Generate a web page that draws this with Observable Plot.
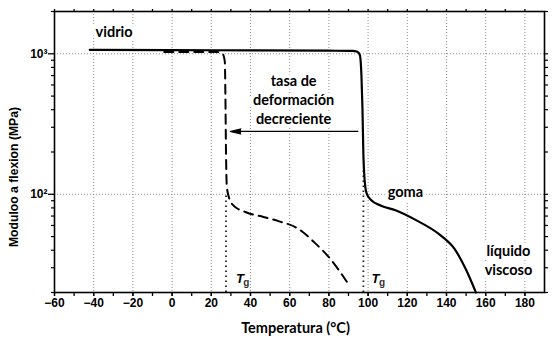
<!DOCTYPE html>
<html><head><meta charset="utf-8">
<script src="https://cdn.jsdelivr.net/npm/d3@7"></script>
<script src="https://cdn.jsdelivr.net/npm/@observablehq/plot@0.6"></script>
<style>
html,body{margin:0;padding:0;background:#fff;}
</style></head><body><div id="chart"></div>
<script>
// Solid curve (flexural modulus vs temperature)
const solidTemp    = [-42, 0, 40, 80, 92, 94.5, 95.8, 96.6, 97.1, 97.6, 98.2, 99.2, 101.5, 106.6, 114, 124, 137, 144, 150, 155];
const solidModulus = [1065, 1062, 1058, 1052, 1048, 1035, 980, 700, 420, 190, 128, 102, 91, 83, 77, 66, 51, 41, 29, 20];
// Dashed curve (decreasing strain rate)
const dashedTemp    = [-4, 10, 23, 25.8, 26.9, 27.2, 27.5, 27.9, 28.9, 31, 37.7, 46.6, 54.3, 64.2, 72.7, 80.8, 89.2];
const dashedModulus = [1030, 1030, 1028, 1000, 880, 500, 200, 115, 96, 84, 74.5, 69, 64.4, 57, 45.3, 34.6, 23.8];
// Glass transition markers
const tgTemps = [27.5, 97.6];
const tgTop   = [100, 150];
const tgLabelTemps = [34.6, 103.8];
const tgLabelModulus = 25;
// Arrow
const arrowFrom = 95, arrowTo = 29.5, arrowModulus = 280;
// Ticks
const xTicks = [-60, -40, -20, 0, 20, 40, 60, 80, 100, 120, 140, 160, 180];
const xMinorTicks = [-60, -50, -40, -30, -20, -10, 0, 10, 20, 30, 40, 50, 60, 70, 80, 90, 100, 110, 120, 130, 140, 150, 160, 170, 180];
const xGrid = [-40, -20, 0, 20, 40, 60, 80, 100, 120, 140, 160, 180];
const yTicks = [100, 1000];
const yTickLabels = ["10²", "10³"];
const yMinorTicks = [20, 30, 40, 50, 60, 70, 80, 90, 200, 300, 400, 500, 600, 700, 800, 900, 2000];
// Annotations
const annTexts = ["vidrio", "tasa de\ndeformación\ndecreciente", "goma", "líquido\nviscoso"];
const annTemps = [-29.6, 62, 119, 171.6];
const annModulus = [1456, 479, 105, 34.3];
const xLabel = "Temperatura (°C)";
const yLabel = "Moduloo a flexion (MPa)";

const solid = solidTemp.map((t, i) => ({t, m: solidModulus[i]}));
const dashed = dashedTemp.map((t, i) => ({t, m: dashedModulus[i]}));
const ann = annTexts.map((s, i) => ({s, t: annTemps[i], m: annModulus[i]}));
const fmtX = d => d < 0 ? "\u2212" + (-d) : String(d);

const arrowHead = (typeof Plot.spike === "function")
  ? Plot.vector([arrowTo], {x: d => d, y: () => arrowModulus, rotate: -90, length: 11, shape: "spike", r: 2.6, anchor: "end", fill: "black", stroke: "black", strokeWidth: 1})
  : Plot.arrow([0], {x1: () => arrowTo + 3, x2: () => arrowTo, y1: () => arrowModulus, y2: () => arrowModulus, headLength: 10, strokeWidth: 2});

const chart = Plot.plot({
  width: 556,
  height: 339,
  marginLeft: 54,
  marginTop: 11,
  marginRight: 12,
  marginBottom: 47,
  x: {domain: [-60, 190]},
  y: {type: "log", domain: [20, 2000]},
  style: {fontFamily: "'Liberation Sans', Arial, sans-serif", fontWeight: "bold", fontSize: "12px", background: "white", color: "black"},
  marks: [
    Plot.gridX(xGrid, {stroke: "#8c8c8c", strokeOpacity: 1, strokeWidth: 1, strokeDasharray: "1,2"}),
    Plot.gridY(yTicks, {stroke: "#8c8c8c", strokeOpacity: 1, strokeWidth: 1, strokeDasharray: "1,2"}),
    Plot.ruleX(tgTemps, {x: d => d, y1: () => 20, y2: (d, i) => tgTop[i], stroke: "#222", strokeWidth: 1.8, strokeDasharray: "1.6,3.4"}),
    Plot.text(ann, {x: "t", y: "m", text: "s", fontFamily: "Lato, 'Open Sans', sans-serif", fontWeight: "bold", fontSize: 14.5, lineHeight: 1.3, fill: "black", stroke: "white", strokeWidth: 8, paintOrder: "stroke"}),
    Plot.line(dashed, {x: "t", y: "m", curve: "monotone-x", stroke: "black", strokeWidth: 2, strokeDasharray: "9,6"}),
    Plot.line(solid, {x: "t", y: "m", curve: "monotone-x", stroke: "black", strokeWidth: 2.2}),
    Plot.link([0], {x1: () => arrowFrom, x2: () => arrowTo + 3, y1: () => arrowModulus, y2: () => arrowModulus, stroke: "black", strokeWidth: 1.3}),
    arrowHead,
    Plot.text(tgLabelTemps, {x: d => d, y: () => tgLabelModulus, text: () => "T", fontStyle: "italic", fontWeight: "bold", fontSize: 13, fill: "black"}),
    Plot.text(tgLabelTemps, {x: d => d, y: () => tgLabelModulus, text: () => "g", dx: 6.5, dy: 4, fontWeight: "bold", fontSize: 10, fill: "#333"}),
    Plot.frame({stroke: "black", strokeWidth: 1.6}),
    Plot.axisX({anchor: "bottom", ticks: xMinorTicks, tickSize: 4, tickFormat: () => "", strokeWidth: 1.3, label: null}),
    Plot.axisX({anchor: "bottom", ticks: xTicks, tickSize: 4, tickPadding: 2, tickFormat: fmtX, fontSize: 12, strokeWidth: 1.3, label: null}),
    Plot.axisX({anchor: "top", ticks: xMinorTicks, tickSize: 3, tickFormat: () => "", strokeWidth: 1.3, label: null}),
    Plot.axisY({anchor: "left", ticks: yMinorTicks, tickSize: 3, tickFormat: () => "", strokeWidth: 1.2, label: null}),
    Plot.axisY({anchor: "left", ticks: yTicks, tickSize: 6, tickPadding: 1, tickFormat: (d) => yTickLabels[yTicks.indexOf(d)], fontSize: 12, strokeWidth: 1.3, label: null}),
    Plot.axisY({anchor: "right", ticks: yMinorTicks.concat(yTicks), tickSize: 3, tickFormat: () => "", strokeWidth: 1.2, label: null}),
    Plot.text([xLabel], {frameAnchor: "bottom", dy: 36, dx: -4, lineAnchor: "middle", fontFamily: "Lato, 'Open Sans', sans-serif", fontWeight: "bold", fontSize: 14.5}),
    Plot.text([yLabel], {frameAnchor: "left", dx: -40, dy: 25, rotate: -90, textAnchor: "middle", lineAnchor: "middle", fontWeight: "bold", fontSize: 12.2})
  ]
});
document.getElementById("chart").appendChild(chart);
</script></body></html>
